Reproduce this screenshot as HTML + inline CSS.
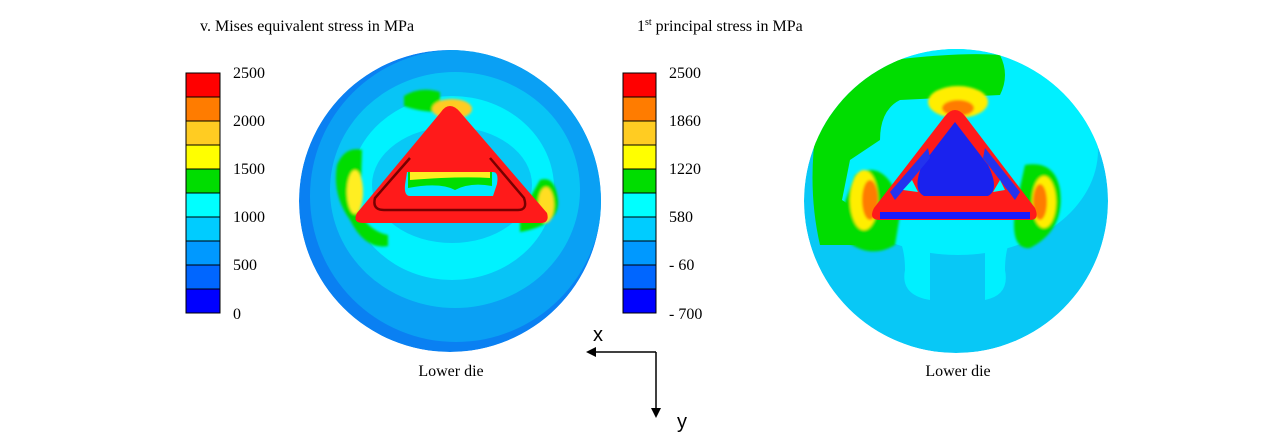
<!DOCTYPE html>
<html><head><meta charset="utf-8"><style>
body{margin:0;background:#fff;}
svg{display:block;font-family:"Liberation Serif",serif;}
</style></head><body>
<svg width="1266" height="447" viewBox="0 0 1266 447" xmlns="http://www.w3.org/2000/svg">
<defs>
<filter id="bl" x="-30%" y="-30%" width="160%" height="160%"><feGaussianBlur stdDeviation="1.2"/></filter>
<clipPath id="c1"><circle cx="450" cy="201" r="151"/></clipPath>
<clipPath id="c2"><circle cx="956" cy="201" r="152"/></clipPath>
</defs>
<text x="200" y="31" font-size="16">v. Mises equivalent stress in MPa</text>
<text x="637" y="31" font-size="16">1<tspan font-size="10" dy="-6">st</tspan><tspan dy="6"> principal stress in  MPa</tspan></text>

<g stroke="#000" stroke-width="1">
<rect x="186" y="73" width="34" height="24" fill="#ff0000"/>
<rect x="186" y="97" width="34" height="24" fill="#ff7c00"/>
<rect x="186" y="121" width="34" height="24" fill="#ffcc22"/>
<rect x="186" y="145" width="34" height="24" fill="#ffff00"/>
<rect x="186" y="169" width="34" height="24" fill="#00dd00"/>
<rect x="186" y="193" width="34" height="24" fill="#00ffff"/>
<rect x="186" y="217" width="34" height="24" fill="#00ccff"/>
<rect x="186" y="241" width="34" height="24" fill="#0099ff"/>
<rect x="186" y="265" width="34" height="24" fill="#0066ff"/>
<rect x="186" y="289" width="34" height="24" fill="#0000ff"/>
</g>
<g font-size="16">
<text x="233" y="78">2500</text><text x="233" y="126">2000</text><text x="233" y="174">1500</text>
<text x="233" y="222">1000</text><text x="233" y="270">500</text><text x="233" y="319">0</text>
</g>
<g stroke="#000" stroke-width="1">
<rect x="623" y="73" width="33" height="24" fill="#ff0000"/>
<rect x="623" y="97" width="33" height="24" fill="#ff7c00"/>
<rect x="623" y="121" width="33" height="24" fill="#ffcc22"/>
<rect x="623" y="145" width="33" height="24" fill="#ffff00"/>
<rect x="623" y="169" width="33" height="24" fill="#00dd00"/>
<rect x="623" y="193" width="33" height="24" fill="#00ffff"/>
<rect x="623" y="217" width="33" height="24" fill="#00ccff"/>
<rect x="623" y="241" width="33" height="24" fill="#0099ff"/>
<rect x="623" y="265" width="33" height="24" fill="#0066ff"/>
<rect x="623" y="289" width="33" height="24" fill="#0000ff"/>
</g>
<g font-size="16">
<text x="669" y="78">2500</text><text x="669" y="126">1860</text><text x="669" y="174">1220</text>
<text x="669" y="222">580</text><text x="669" y="270">- 60</text><text x="669" y="319">- 700</text>
</g>

<!-- circle 1 -->
<g clip-path="url(#c1)">
<circle cx="450" cy="201" r="151" fill="#0a80f2"/>
<circle cx="456" cy="196" r="146" fill="#0aa0f4"/>
<ellipse cx="455" cy="190" rx="125" ry="118" fill="#08c4f6"/>
<ellipse cx="452" cy="188" rx="102" ry="92" fill="#00f2ff"/>
<ellipse cx="452" cy="185" rx="80" ry="58" fill="#08c8f6"/>
<g filter="url(#bl)">
<path d="M404,96 Q420,86 440,92 L440,112 Q420,112 404,106Z" fill="#00dd00"/>
<ellipse cx="452" cy="109" rx="20" ry="10" fill="#ffcc22"/>
<path d="M337,165 Q345,146 362,150 L360,215 Q372,232 388,235 L388,246 Q365,250 350,220 Q332,195 337,165Z" fill="#00dd00"/>
<ellipse cx="355" cy="192" rx="8" ry="22" fill="#ffee22"/>
<path d="M540,180 Q555,175 558,200 Q560,225 520,232 L520,215Z" fill="#00dd00"/>
<ellipse cx="546" cy="205" rx="8" ry="18" fill="#ffdd22"/>
</g>
<path d="M450,106 Q455,106 460,112 L547,213 Q550,223 540,223 L363,223 Q352,223 357,213 L441,112 Q445,106 450,106 Z" fill="#ff1a1a"/>
<path d="M410,158 L375,198 Q372,210 384,210 L518,210 Q528,210 524,198 L490,158" fill="none" stroke="#700" stroke-width="2.5"/>
<path d="M407,172 L493,172 Q499,172 497,184 L493,196 L410,196 Q404,196 405,185 Z" fill="#00e8ff"/>
<path d="M408,172 L492,172 L492,186 Q470,182 455,190 Q440,182 408,188 Z" fill="#00dd00"/>
<path d="M410,172 L490,172 L490,178 Q460,176 410,180 Z" fill="#ffee22"/>
</g>

<!-- circle 2 -->
<g clip-path="url(#c2)">
<circle cx="956" cy="201" r="152" fill="#08c8f6"/>
<ellipse cx="958" cy="150" rx="140" ry="105" fill="#00f0ff"/>
<path d="M880,220 Q905,230 905,270 Q900,295 930,300 L930,220Z M1030,220 Q1005,230 1005,270 Q1010,295 985,300 L985,220Z" fill="#00f0ff"/>
<path d="M820,105 Q870,55 900,60 L900,100 Q880,110 880,140 L850,160 L842,200 Q860,210 855,245 L820,245 Q805,180 820,105Z" fill="#00dd00"/>
<path d="M893,60 Q960,52 1000,55 Q1010,75 1000,95 L900,100Z" fill="#00dd00"/>
<g filter="url(#bl)">
<path d="M855,175 Q880,160 895,190 L900,215 L895,245 Q870,260 845,240 L842,210Z" fill="#00dd00"/>
<path d="M1025,165 Q1055,160 1060,190 Q1065,230 1030,248 Q1010,250 1015,210Z" fill="#00dd00"/>
<ellipse cx="958" cy="102" rx="30" ry="16" fill="#ffee00"/>
<ellipse cx="864" cy="200" rx="14" ry="30" fill="#ffee00"/>
<ellipse cx="1044" cy="202" rx="12" ry="26" fill="#ffee00"/>
<ellipse cx="958" cy="108" rx="16" ry="8" fill="#ff7c00"/>
<ellipse cx="870" cy="200" rx="8" ry="20" fill="#ff7c00"/>
<ellipse cx="1040" cy="202" rx="7" ry="18" fill="#ff7c00"/>
</g>
<path d="M955,110 Q960,110 965,116 L1035,208 Q1040,220 1030,220 L880,220 Q868,220 874,208 L945,116 Q950,110 955,110 Z" fill="#ff1a1a"/>
<path d="M880,212 L1030,212 L1030,219 L880,219 Z" fill="#1a1aff"/>
<path d="M955,122 L988,165 Q1000,190 988,196 L924,196 Q912,190 922,165 Z" fill="#1a22ee"/>
<path d="M890,192 L928,148 L930,158 L895,200 Z M1020,192 L985,148 L983,158 L1015,200 Z" fill="#2233ee"/>
<path d="M903,190 L912,180 L918,192 Z M1005,190 L1000,180 L993,192 Z" fill="#00ffff"/>
</g>

<text x="451" y="376" font-size="16" text-anchor="middle">Lower die</text>
<text x="958" y="376" font-size="16" text-anchor="middle">Lower die</text>

<g stroke="#000" stroke-width="1.5" fill="none">
<line x1="656" y1="352" x2="594" y2="352"/>
<line x1="656" y1="352" x2="656" y2="410"/>
</g>
<polygon points="586,352 596,347 596,357" fill="#000"/>
<polygon points="656,418 651,408 661,408" fill="#000"/>
<text x="593" y="341" font-size="20" font-family="Liberation Sans,sans-serif">x</text>
<text x="677" y="428" font-size="20" font-family="Liberation Sans,sans-serif">y</text>
</svg>
</body></html>
